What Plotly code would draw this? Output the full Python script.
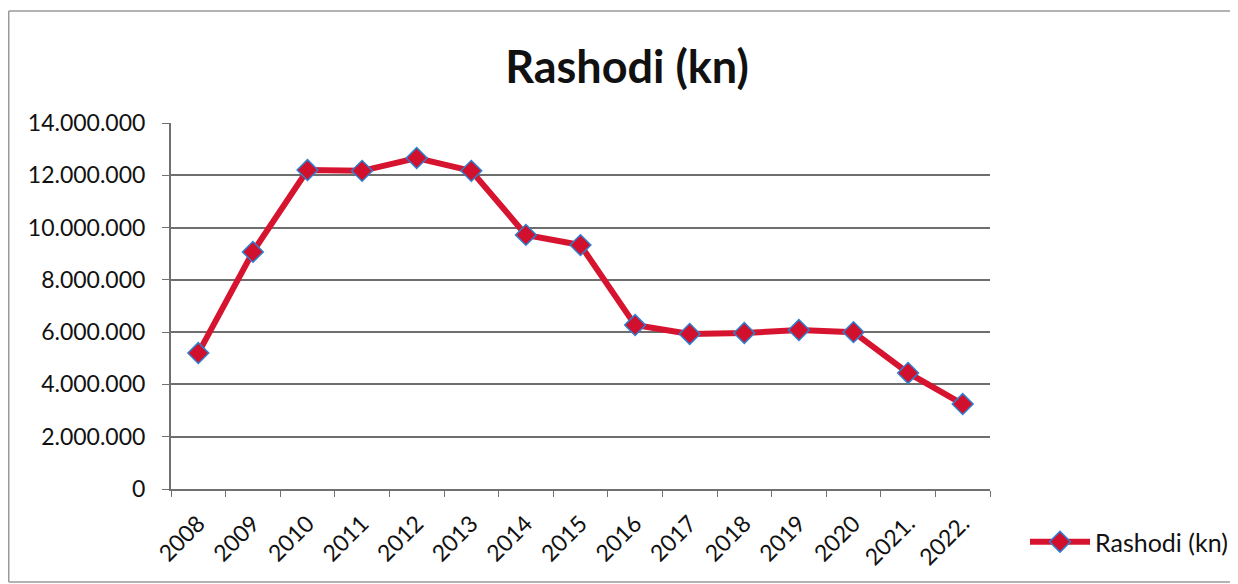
import plotly.graph_objects as go

years = ["2008", "2009", "2010", "2011", "2012", "2013", "2014", "2015",
         "2016", "2017", "2018", "2019", "2020", "2021.", "2022."]
rashodi = [5200000, 9070000, 12200000, 12170000, 12660000, 12170000, 9720000,
           9330000, 6270000, 5930000, 5970000, 6080000, 6000000, 4440000, 3250000]
y_ticks = [0, 2000000, 4000000, 6000000, 8000000, 10000000, 12000000, 14000000]

# page body has 8px default margin -> figure sized/offset to compensate
W, H = 1230, 576
L, R, T, B = 163, 982, 115, 481
PW, PH = R - L, B - T

fig = go.Figure()
fig.add_trace(go.Scatter(
    x=years, y=rashodi, mode="lines+markers", name="Rashodi (kn)",
    line=dict(color="#D7142F", width=6),
    marker=dict(symbol="diamond", size=16, color="#D0102C",
                line=dict(color="#2E7FD0", width=1.5)),
))

bx0, bx1 = (0.75 - L) / PW, (1300 - L) / PW
by0, by1 = (B - 574) / PH, (B - 3) / PH
border = dict(color="#9a9a9a", width=1.5)

fig.update_layout(
    width=W, height=H,
    paper_bgcolor="white", plot_bgcolor="white",
    separators=",.",
    margin=dict(l=L, r=W - R, t=T, b=H - B, pad=0, autoexpand=False),
    font=dict(family="Lato, Open Sans, sans-serif", color="#111111", size=23),
    title=dict(text="<b>Rashodi (kn)</b>", x=619 / W, xanchor="center",
               y=1 - 59 / H, yanchor="middle",
               font=dict(size=45, color="#111111")),
    showlegend=True,
    legend=dict(x=(1017 - L) / PW, y=(B - 534) / PH,
                xanchor="left", yanchor="middle",
                font=dict(size=25, color="#111111"), bgcolor="rgba(0,0,0,0)",
                itemwidth=60),
    xaxis=dict(type="category", range=[-0.5, len(years) - 0.5],
               tickangle=-45, ticks="outside",
               tickson="boundaries", ticklen=6, tickcolor="#707070",
               showline=True, linecolor="#707070", linewidth=2,
               showgrid=False, tickfont=dict(size=23),
               ticklabelstandoff=10),
    yaxis=dict(range=[0, 14000000], tickvals=y_ticks, tickformat=",d",
               ticks="outside", ticklen=7, tickcolor="#707070",
               showline=True, linecolor="#707070", linewidth=2,
               showgrid=True, gridcolor="#6e6e6e", gridwidth=2,
               zeroline=False, tickfont=dict(size=23),
               ticklabelstandoff=12),
    shapes=[
        dict(type="line", xref="paper", yref="paper", x0=bx0, x1=bx0,
             y0=by0, y1=by1, line=border),
        dict(type="line", xref="paper", yref="paper", x0=bx0, x1=bx1,
             y0=by1, y1=by1, line=border),
        dict(type="line", xref="paper", yref="paper", x0=bx0, x1=bx1,
             y0=by0, y1=by0, line=border),
    ],
)

fig.write_html("out.html")
